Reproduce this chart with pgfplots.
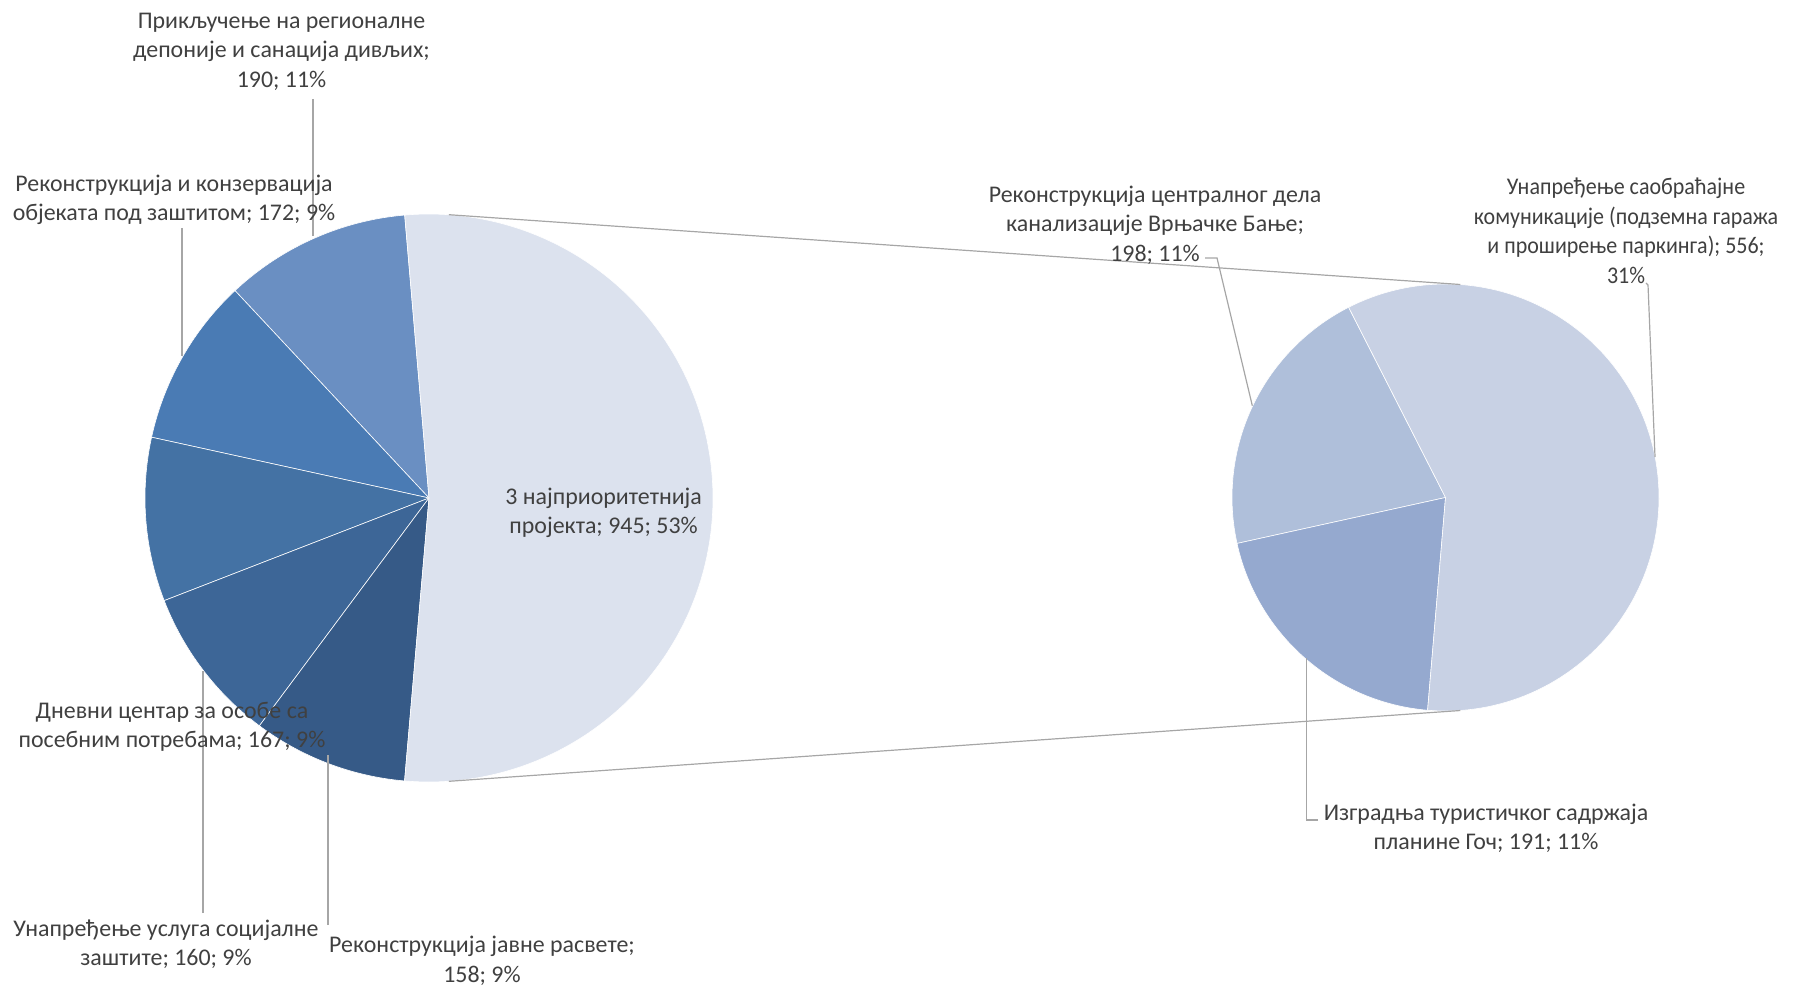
\documentclass[border=0pt]{standalone}
\usepackage{pgfplots}
\pgfplotsset{compat=1.18}
\usepackage{pgfplotstable}
\usepackage{fontspec}
\setmainfont{Carlito}
\definecolor{p0}{HTML}{6A8FC2}
\definecolor{p1}{HTML}{4A7BB4}
\definecolor{p2}{HTML}{4472A4}
\definecolor{p3}{HTML}{3D6697}
\definecolor{p4}{HTML}{365A87}
\definecolor{p5}{HTML}{DCE2EE}
\definecolor{s0}{HTML}{AFBFDA}
\definecolor{s1}{HTML}{95A9CF}
\definecolor{s2}{HTML}{C8D1E4}
\definecolor{txt}{HTML}{404040}
\definecolor{ldr}{HTML}{A6A6A6}
% primary pie (values)
\pgfplotstableread{
value
190
172
167
160
158
945
}\primary
% secondary pie (split of the 945)
\pgfplotstableread{
value
198
191
556
}\secondary
\newcommand\drawpie[7]{%
 \pgfmathsetmacro\pietotal{0}%
 \pgfplotsforeachungrouped \i in {0,...,#2}{%
   \pgfplotstablegetelem{\i}{value}\of#1%
   \pgfmathsetmacro\pietotal{\pietotal+\pgfplotsretval}}%
 \pgfmathsetmacro\piecur{#6}%
 \pgfplotsforeachungrouped \i in {0,...,#2}{%
   \pgfplotstablegetelem{\i}{value}\of#1%
   \pgfmathsetmacro\pienext{\piecur+360*(\pgfplotsretval/\pietotal)}%
   \edef\pietmp{\noexpand\addplot[fill=#7\i, draw=white, line width=0.3pt, domain=\piecur:\pienext, samples=120, variable=\noexpand\t] ({#3+#5*cos(\noexpand\t)},{#4+#5*sin(\noexpand\t)}) -- (axis cs:#3,#4) -- cycle;}%
   \pietmp
   \global\let\piecur\pienext}%
}
\begin{document}
\begin{tikzpicture}[lbl/.style={font=\fontsize{12}{14.8}\selectfont, text=txt, align=center, inner sep=0pt}]
\begin{axis}[x=0.5bp, y=0.5bp, xmin=0, xmax=1798, ymin=0, ymax=987,
  hide axis, clip=false, scale only axis]
\addplot[draw=none] coordinates {(0,0) (1798,987)};
\drawpie{\primary}{5}{429}{489}{284}{94.92}{p}
\drawpie{\secondary}{2}{1445.5}{489.5}{213.5}{117}{s}
% connector lines
\addplot[ldr, line width=0.6pt] coordinates {(448.8,772.3) (1460.4,702.5)};
\addplot[ldr, line width=0.6pt] coordinates {(448.8,205.7) (1460.4,276.5)};
% leader lines
\addplot[ldr, line width=0.6pt] coordinates {(313,888) (313,751)};
\addplot[ldr, line width=0.6pt] coordinates {(182,759) (182,631)};
\addplot[ldr, line width=0.6pt] coordinates {(203,74) (203,316)};
\addplot[ldr, line width=0.6pt] coordinates {(328,62) (328,232)};
\addplot[ldr, line width=0.6pt] coordinates {(1205,729) (1217,729) (1252.3,581.3)};
\addplot[ldr, line width=0.6pt] coordinates {(1646,704) (1648,702) (1655,530)};
\addplot[ldr, line width=0.6pt] coordinates {(1318,167) (1306.5,167) (1306.5,329)};
% labels
\node[lbl] at (axis cs:281.5,935.5) {Прикључење на регионалне\\депоније и санација дивљих;\\190; 11\%};
\node[lbl] at (axis cs:174,787) {Реконструкција и конзервација\\објеката под заштитом; 172; 9\%};
\node[lbl] at (axis cs:603.6,474) {3 најприоритетнија\\пројекта; 945; 53\%};
\node[lbl] at (axis cs:172,260) {Дневни центар за особе са\\посебним потребама; 167; 9\%};
\node[lbl] at (axis cs:166,43) {Унапређење услуга социјалне\\заштите; 160; 9\%};
\node[lbl] at (axis cs:482,26) {Реконструкција јавне расвете;\\158; 9\%};
\node[lbl] at (axis cs:1155,762) {Реконструкција централног дела\\канализације Врњачке Бање;\\198; 11\%};
\node[lbl, xscale=0.92] at (axis cs:1626,756) {Унапређење саобраћајне\\комуникације (подземна гаража\\и проширење паркинга); 556;\\31\%};
\node[lbl] at (axis cs:1486,158.5) {Изградња туристичког садржаја\\планине Гоч; 191; 11\%};
\end{axis}
\end{tikzpicture}
\end{document}
